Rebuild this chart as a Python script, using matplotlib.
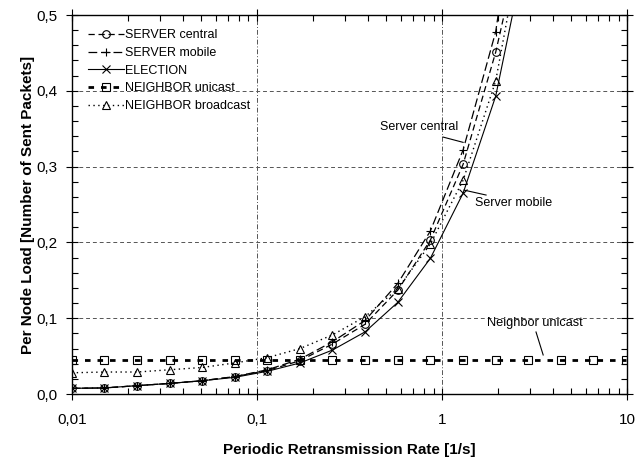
import numpy as np
import matplotlib.pyplot as plt
from matplotlib.ticker import FuncFormatter, MultipleLocator, LogLocator

plt.rcParams['font.family'] = ['Liberation Sans', 'DejaVu Sans']

# retransmission rates (1/s)
rate = [0.01, 0.015, 0.0225, 0.0338, 0.0506, 0.0759, 0.114, 0.171, 0.256,
        0.384, 0.577, 0.865, 1.30, 1.95, 2.92, 4.38, 6.57, 9.85]

server_central = [0.0075, 0.008, 0.011, 0.014, 0.0175, 0.023, 0.031, 0.044,
                  0.066, 0.092, 0.137, 0.203, 0.303, 0.451, 0.64]
server_mobile = [0.0075, 0.008, 0.011, 0.014, 0.0175, 0.023, 0.032, 0.046,
                 0.069, 0.097, 0.146, 0.215, 0.322, 0.478, 0.77]
election = [0.0075, 0.008, 0.011, 0.014, 0.0175, 0.022, 0.030, 0.041,
            0.058, 0.082, 0.121, 0.179, 0.265, 0.393, 0.60]
neighbor_unicast = [0.045] * 18
neighbor_broadcast = [0.028, 0.029, 0.029, 0.032, 0.035, 0.041, 0.048, 0.060,
                      0.078, 0.102, 0.139, 0.198, 0.282, 0.413, 0.645]

fig = plt.figure(figsize=(6.36, 4.59), dpi=100)
ax = fig.add_axes([0.113, 0.1416, 0.873, 0.8257])

mk = dict(markersize=5.5, markerfacecolor='none', markeredgecolor='black',
          markeredgewidth=0.8, color='black')
n = len(server_central)
ax.plot(rate[:n], server_central, linestyle=(0, (5, 3)), lw=0.9, marker='o',
        label='SERVER central', **mk)
ax.plot(rate[:n], server_mobile, linestyle=(0, (7, 3)), lw=0.9, marker='+',
        label='SERVER mobile', **mk)
ax.plot(rate[:n], election, linestyle='-', lw=0.8, marker='x',
        label='ELECTION', **mk)
ax.plot(rate, neighbor_unicast, linestyle=(0, (2, 2.5)), lw=2.0, marker='s',
        label='NEIGHBOR unicast', **mk)
ax.plot(rate[:n], neighbor_broadcast, linestyle=(0, (1, 2.5)), lw=1.0, marker='^',
        label='NEIGHBOR broadcast', **mk)

ax.set_xscale('log')
ax.set_xlim(0.01, 10)
ax.set_ylim(0, 0.5)

ax.yaxis.set_major_locator(MultipleLocator(0.1))
ax.yaxis.set_minor_locator(MultipleLocator(0.02))
ax.xaxis.set_major_locator(LogLocator(base=10))
ax.xaxis.set_minor_locator(LogLocator(base=10, subs=np.arange(2, 10)))

def comma(v, pos):
    s = '%g' % v
    return s.replace('.', ',')

ax.xaxis.set_major_formatter(FuncFormatter(comma))
ax.yaxis.set_major_formatter(FuncFormatter(lambda v, p: ('%.1f' % v).replace('.', ',')))

ax.tick_params(which='major', direction='inout', length=8, width=0.8,
               top=True, right=True, labelsize=11, pad=6)
ax.tick_params(axis='x', which='major', pad=10)
ax.tick_params(which='minor', direction='in', length=4, width=0.8,
               top=True, right=True)

ax.grid(True, axis='y', which='major', linestyle=(0, (4, 3)), color='#555555', lw=0.7)
ax.grid(True, axis='x', which='major', linestyle=(0, (5, 2, 1, 2)), color='#555555', lw=0.7)

for s in ax.spines.values():
    s.set_linewidth(1.0)

ax.set_xlabel('Periodic Retransmission Rate [1/s]', fontsize=11, fontweight='bold', labelpad=11)
ax.set_ylabel('Per Node Load [Number of Sent Packets]', fontsize=11, fontweight='bold', labelpad=1)

ax.legend(loc='upper left', frameon=False, fontsize=9, numpoints=1,
          handlelength=2.9, handletextpad=0.1, labelspacing=0.45,
          borderaxespad=0.0, bbox_to_anchor=(0.02, 0.975))

# annotations: text and short leader lines
ax.text(0.751, 0.352, 'Server central', fontsize=9, ha='center', va='center')
ax.plot([1.012, 1.30], [0.339, 0.332], color='black', lw=0.8)
ax.text(2.43, 0.252, 'Server mobile', fontsize=9, ha='center', va='center')
ax.plot([1.73, 1.315], [0.2625, 0.269], color='black', lw=0.8)
ax.text(3.16, 0.0937, 'Neighbor unicast', fontsize=9.2, ha='center', va='center')
ax.plot([3.22, 3.52], [0.0818, 0.0515], color='black', lw=0.8)

fig.savefig('out.png', dpi=100)
